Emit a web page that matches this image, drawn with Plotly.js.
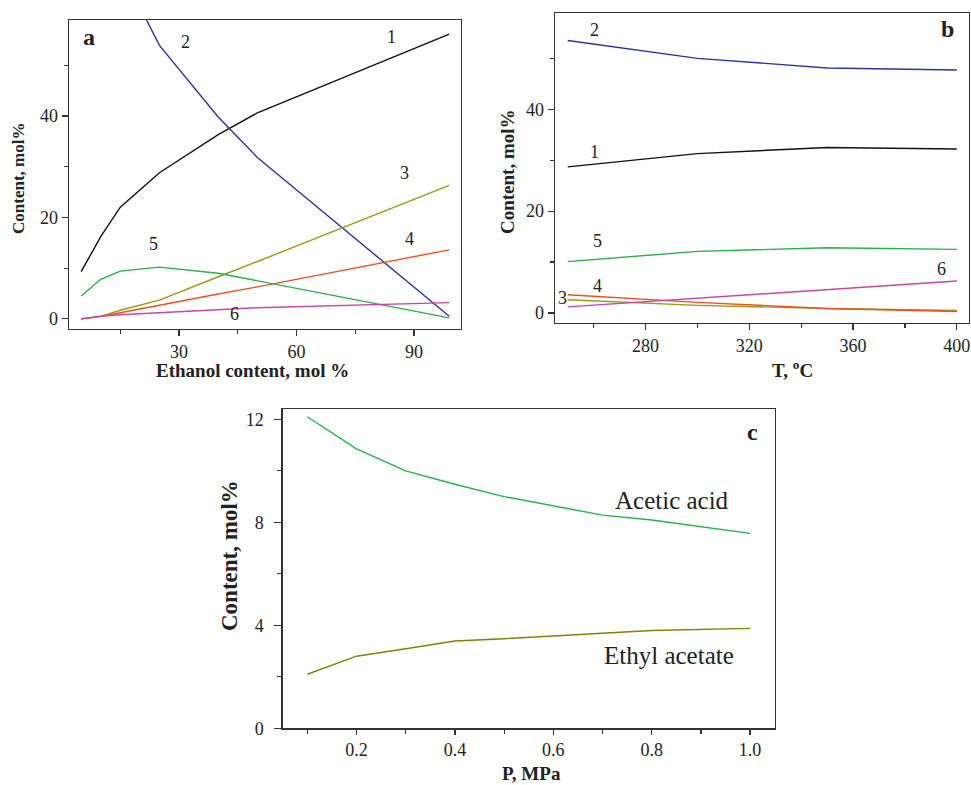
<!DOCTYPE html>
<html><head><meta charset="utf-8">
<script src="https://cdn.plot.ly/plotly-3.0.1.min.js"></script>
<style>html,body{margin:0;padding:0;background:#fff}</style>
</head><body><div id="chart" style="width:971px;height:785px"></div>
<script>
// Panel a: content vs ethanol content
const ethanolX = [5, 10, 15, 25, 40, 50, 99];
const a1 = [9.3, 16.2, 22.0, 28.8, 36.3, 40.6, 56.1];
const a2X = [15, 25, 40, 50, 99];
const a2 = [69, 53.9, 39.8, 31.8, 0.5];
const a3 = [0, 0.5, 1.7, 3.7, 8.3, 11.3, 26.3];
const a4 = [0, 0.5, 1.2, 2.7, 4.9, 6.3, 13.6];
const a5 = [4.5, 7.8, 9.4, 10.2, 9.0, 7.5, 0.2];
const a6 = [0, 0.5, 0.8, 1.2, 1.9, 2.2, 3.2];
// Panel b: content vs temperature
const tempX = [250, 300, 350, 400];
const b1 = [28.7, 31.3, 32.5, 32.2];
const b2 = [53.5, 50.0, 48.1, 47.7];
const b3 = [2.6, 1.5, 0.9, 0.5];
const b4 = [3.6, 2.1, 0.9, 0.3];
const b5 = [10.1, 12.1, 12.8, 12.5];
const b6 = [1.2, 2.9, 4.7, 6.3];
// Panel c: content vs pressure
const pressX = [0.1, 0.2, 0.3, 0.4, 0.5, 0.7, 0.8, 1.0];
const aceticAcid = [12.1, 10.85, 10.0, 9.48, 9.0, 8.28, 8.09, 7.57];
const ethylAcetate = [2.1, 2.8, 3.09, 3.39, 3.48, 3.7, 3.8, 3.88];

const W = 971, H = 785;
const C = {k:'#111111', b:'#2a3598', o:'#9a9a12', r:'#f0501e', g:'#25b04a', m:'#cc44a0', g2:'#22b34a', o2:'#857f00'};
function ln(x, y, color, xa, ya){ return {x:x, y:y, mode:'lines', type:'scatter', line:{color:color, width:1.4}, xaxis:xa, yaxis:ya, hoverinfo:'skip'}; }

const data = [
  ln(ethanolX, a1, C.k, 'x', 'y'),
  ln(a2X, a2, C.b, 'x', 'y'),
  ln(ethanolX, a3, C.o, 'x', 'y'),
  ln(ethanolX, a4, C.r, 'x', 'y'),
  ln(ethanolX, a5, C.g, 'x', 'y'),
  ln(ethanolX, a6, C.m, 'x', 'y'),
  ln(tempX, b1, C.k, 'x2', 'y2'),
  ln(tempX, b2, C.b, 'x2', 'y2'),
  ln(tempX, b3, C.o, 'x2', 'y2'),
  ln(tempX, b4, C.r, 'x2', 'y2'),
  ln(tempX, b5, C.g, 'x2', 'y2'),
  ln(tempX, b6, C.m, 'x2', 'y2'),
  ln(pressX, aceticAcid, C.g2, 'x3', 'y3'),
  ln(pressX, ethylAcetate, C.o2, 'x3', 'y3')
];

const FONT = 'Liberation Serif';
function ax(domain, range, dtick, minor, anchor, extra){
  const o = {domain:domain, range:range, dtick:dtick, tick0:0, anchor:anchor,
    showline:true, mirror:true, linecolor:'#333', linewidth:1.4,
    ticks:'outside', ticklen:6, tickwidth:1.2, tickcolor:'#333',
    minor:{ticks:'outside', ticklen:4, tickwidth:1.2, tickcolor:'#333', dtick:minor, tick0:0, showgrid:false},
    showgrid:false, zeroline:false, tickfont:{family:FONT, size:18, color:'#222'}, fixedrange:true};
  return Object.assign(o, extra || {});
}
const dx = (l, r) => [l / W, r / W];
const dy = (t, b) => [1 - b / H, 1 - t / H];

function txt(x, y, s, size, bold, extra){
  return Object.assign({xref:'paper', yref:'paper', x:x / W, y:1 - y / H, text: bold ? '<b>' + s + '</b>' : s,
    showarrow:false, xanchor:'center', yanchor:'middle', font:{family:FONT, size:size, color:'#222'}}, extra || {});
}

const annotations = [
  txt(89, 37, 'a', 24, true), txt(185, 42, '2', 18), txt(391, 37, '1', 18), txt(404, 173, '3', 18),
  txt(409, 239, '4', 18), txt(153, 244, '5', 18), txt(234, 314, '6', 18),
  txt(947, 29, 'b', 24, true), txt(594, 30, '2', 18), txt(594, 152, '1', 18), txt(597, 241, '5', 18),
  txt(597, 286, '4', 18), txt(562, 298, '3', 18), txt(941, 269, '6', 18),
  txt(752, 432, 'c', 24, true), txt(672, 500, 'Acetic acid', 25), txt(669, 655, 'Ethyl acetate', 25),
  txt(253, 370, 'Ethanol content, mol %', 19, true),
  txt(19, 179, 'Content, mol%', 17, true, {textangle:-90}),
  txt(792, 369, 'T, <sup>o</sup>C', 19, true),
  txt(508, 171, 'Content, mol%', 19, true, {textangle:-90}),
  txt(531, 773, 'P, MPa', 19, true),
  txt(229, 556, 'Content, mol%', 23, true, {textangle:-90})
];

const layout = {
  width:W, height:H, margin:{l:0, r:0, t:0, b:0}, showlegend:false,
  paper_bgcolor:'#fff', plot_bgcolor:'#fff',
  xaxis: ax(dx(69, 461), [1.9, 102], 30, 15, 'y'),
  yaxis: ax(dy(20, 329), [-2, 58.9], 20, 10, 'x'),
  xaxis2: ax(dx(555, 969), [245.1, 404.7], 40, 20, 'y2'),
  yaxis2: ax(dy(13, 322.7), [-1.9, 58.9], 20, 10, 'x2'),
  xaxis3: ax(dx(282.7, 774.7), [0.05, 1.05], 0.2, 0.1, 'y3', {tickformat:'.1f', ticklen:5}),
  yaxis3: ax(dy(409.3, 728.3), [0, 12.39], 4, 2, 'x3', {ticklen:7, ticklabelstandoff:7}),
  annotations: annotations
};
Plotly.newPlot('chart', data, layout, {staticPlot:true});
</script></body></html>
